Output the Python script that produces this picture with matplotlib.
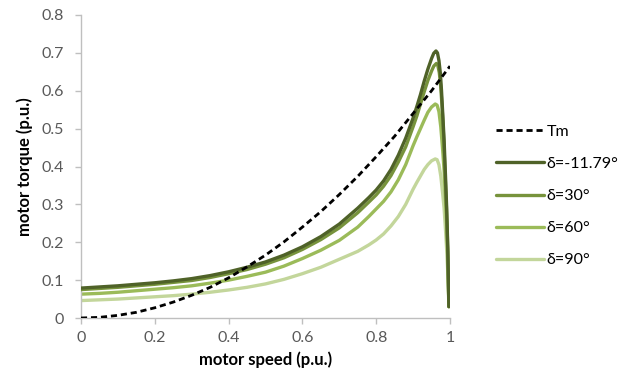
import matplotlib
matplotlib.use("Agg")
import matplotlib.pyplot as plt

plt.rcParams['font.family'] = ['Lato', 'DejaVu Sans']

# Data
tm_x = [0, 0.05, 0.1, 0.15, 0.2, 0.25, 0.3, 0.35, 0.4, 0.45, 0.5, 0.55, 0.6, 0.65, 0.7, 0.75,
        0.8, 0.85, 0.9, 0.95, 1.0]
tm_y = [0, 0.0017, 0.007, 0.015, 0.027, 0.042, 0.060, 0.081, 0.106, 0.135, 0.166, 0.201, 0.240, 0.281,
        0.326, 0.374, 0.426, 0.480, 0.540, 0.600, 0.665]

d1_x = [0, 0.05, 0.1, 0.15, 0.2, 0.25, 0.3, 0.35, 0.4, 0.45, 0.5, 0.55, 0.6, 0.65, 0.7, 0.75, 0.78,
        0.8, 0.82, 0.84, 0.86, 0.88, 0.9, 0.91, 0.92, 0.93, 0.94, 0.95, 0.956, 0.962, 0.966, 0.970,
        0.974, 0.977, 0.980, 0.984, 0.988, 0.991, 0.994, 0.997]
d1_y = [0.079, 0.082, 0.085, 0.089, 0.093, 0.098, 0.104, 0.112, 0.122, 0.134, 0.148, 0.166, 0.188, 0.215,
        0.248, 0.290, 0.318, 0.338, 0.362, 0.392, 0.430, 0.475, 0.528, 0.558, 0.590, 0.625, 0.657, 0.685,
        0.699, 0.705, 0.700, 0.680, 0.645, 0.600, 0.545, 0.470, 0.370, 0.290, 0.185, 0.030]

d2_x = [0, 0.05, 0.1, 0.15, 0.2, 0.25, 0.3, 0.35, 0.4, 0.45, 0.5, 0.55, 0.6, 0.65, 0.7, 0.75, 0.78,
        0.8, 0.82, 0.84, 0.86, 0.88, 0.9, 0.91, 0.92, 0.93, 0.94, 0.95, 0.956, 0.963, 0.967, 0.971,
        0.975, 0.978, 0.981, 0.984, 0.988, 0.991, 0.994, 0.997]
d2_y = [0.075, 0.078, 0.081, 0.085, 0.089, 0.094, 0.099, 0.107, 0.117, 0.128, 0.142, 0.159, 0.181, 0.207,
        0.238, 0.278, 0.306, 0.325, 0.348, 0.376, 0.412, 0.452, 0.505, 0.533, 0.565, 0.597, 0.627, 0.652,
        0.665, 0.672, 0.667, 0.648, 0.610, 0.565, 0.515, 0.445, 0.350, 0.275, 0.175, 0.030]

d3_x = [0, 0.05, 0.1, 0.15, 0.2, 0.25, 0.3, 0.35, 0.4, 0.45, 0.5, 0.55, 0.6, 0.65, 0.7, 0.75, 0.78,
        0.8, 0.82, 0.84, 0.86, 0.88, 0.9, 0.91, 0.92, 0.93, 0.94, 0.95, 0.96, 0.965, 0.97,
        0.975, 0.98, 0.984, 0.988, 0.991, 0.994, 0.997]
d3_y = [0.063, 0.065, 0.068, 0.072, 0.076, 0.080, 0.085, 0.092, 0.100, 0.110, 0.121, 0.137, 0.157, 0.179,
        0.205, 0.240, 0.268, 0.288, 0.308, 0.333, 0.365, 0.405, 0.455, 0.478, 0.500, 0.522, 0.543, 0.557,
        0.565, 0.562, 0.545, 0.505, 0.445, 0.390, 0.310, 0.245, 0.160, 0.030]

d4_x = [0, 0.05, 0.1, 0.15, 0.2, 0.25, 0.3, 0.35, 0.4, 0.45, 0.5, 0.55, 0.6, 0.65, 0.7, 0.75, 0.78,
        0.8, 0.82, 0.84, 0.86, 0.88, 0.9, 0.91, 0.92, 0.93, 0.94, 0.95, 0.96, 0.965, 0.97,
        0.975, 0.98, 0.984, 0.988, 0.991, 0.994, 0.997]
d4_y = [0.046, 0.048, 0.050, 0.053, 0.056, 0.059, 0.063, 0.068, 0.074, 0.081, 0.090, 0.102, 0.117, 0.134,
        0.155, 0.176, 0.193, 0.206, 0.222, 0.243, 0.268, 0.300, 0.340, 0.358, 0.375, 0.392, 0.405, 0.415,
        0.420, 0.418, 0.405, 0.375, 0.330, 0.290, 0.230, 0.180, 0.120, 0.030]

labels = ['Tm', 'δ=-11.79°', 'δ=30°', 'δ=60°', 'δ=90°']
colors = ['#000000', '#4F6228', '#77933C', '#9BBB59', '#C3D69B']

x_ticks = [0, 0.2, 0.4, 0.6, 0.8, 1.0]
x_ticklabels = ['0', '0.2', '0.4', '0.6', '0.8', '1']
y_ticks = [0, 0.1, 0.2, 0.3, 0.4, 0.5, 0.6, 0.7, 0.8]
y_ticklabels = ['0', '0.1', '0.2', '0.3', '0.4', '0.5', '0.6', '0.7', '0.8']

fig = plt.figure(figsize=(6.3, 3.74), dpi=100)
ax = fig.add_axes([81 / 630, 1 - 318 / 374, (450 - 81) / 630, (318 - 15) / 374])

lw = 2.4
kw = dict(solid_capstyle='round', solid_joinstyle='round')
ax.plot(tm_x, tm_y, color=colors[0], lw=2.0, ls=(0, (2.2, 1.4)), label=labels[0], zorder=5)
ax.plot(d1_x, d1_y, color=colors[1], lw=lw, label=labels[1], zorder=4, **kw)
ax.plot(d2_x, d2_y, color=colors[2], lw=lw, label=labels[2], zorder=3, **kw)
ax.plot(d3_x, d3_y, color=colors[3], lw=lw, label=labels[3], zorder=2, **kw)
ax.plot(d4_x, d4_y, color=colors[4], lw=lw, label=labels[4], zorder=1, **kw)

ax.set_xlim(0, 1.0)
ax.set_ylim(0, 0.8)
ax.set_xticks(x_ticks)
ax.set_xticklabels(x_ticklabels)
ax.set_yticks(y_ticks)
ax.set_yticklabels(y_ticklabels)

for s in ['top', 'right']:
    ax.spines[s].set_visible(False)
for s in ['left', 'bottom']:
    ax.spines[s].set_color('#BFBFBF')
    ax.spines[s].set_linewidth(1.0)
ax.spines['bottom'].set_zorder(0)
ax.tick_params(axis='both', direction='out', length=4, width=1.0, color='#BFBFBF',
               labelcolor='#595959', labelsize=11.5)
ax.tick_params(axis='y', pad=8)
ax.tick_params(axis='x', pad=5)
ax.set_xlabel('motor speed (p.u.)', fontsize=12, fontweight='bold', labelpad=5)
ax.set_ylabel('motor torque (p.u.)', fontsize=12, fontweight='bold', labelpad=6)

leg = ax.legend(loc='center left', bbox_to_anchor=(496 / 630, 1 - 196 / 374),
                bbox_transform=fig.transFigure, frameon=False, fontsize=11.5,
                handlelength=3.0, handletextpad=0.15, labelspacing=1.12,
                borderpad=0, borderaxespad=0)

fig.savefig('out.png', dpi=100)
